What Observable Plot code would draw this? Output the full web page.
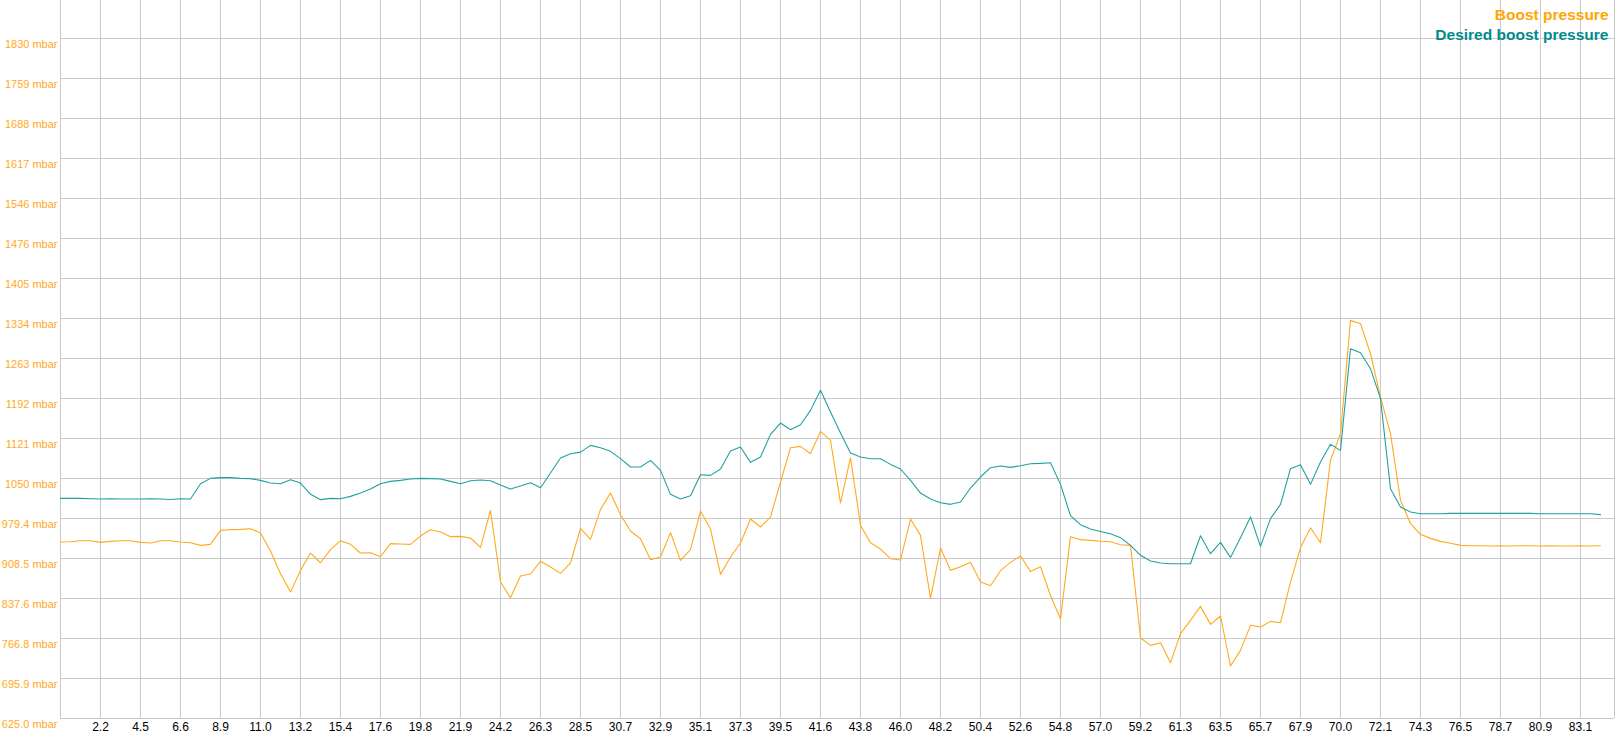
<!DOCTYPE html>
<html>
<head>
<meta charset="utf-8">
<script src="https://cdn.jsdelivr.net/npm/d3@7"></script>
<script src="https://cdn.jsdelivr.net/npm/@observablehq/plot@0.6"></script>
<style>
  html, body { margin: 0; padding: 0; background: #fff; }
  #chart { width: 1617px; height: 737px; overflow: hidden; }
  svg { display: block; }
</style>
</head>
<body>
<div id="chart"></div>
<script>
// Boost pressure (mbar), one sample per step
const boostPressure = [
  937.7, 938.3, 940.1, 940.1, 937.1, 938.9, 940.1, 940.1, 937.1, 935.9,
  940.1, 940.1, 937.7, 936.5, 931.8, 933.6, 958.4, 959.6, 960.2, 961.3,
  953.7, 921.8, 881.6, 849.1, 887.5, 918.2, 901.0, 924.1, 940.1, 933.6,
  918.2, 918.8, 911.7, 934.8, 934.2, 933.6, 948.3, 959.6, 955.4, 947.2,
  947.8, 944.8, 928.3, 993.8, 866.8, 839.1, 877.5, 881.0, 903.5, 893.4,
  882.2, 900.5, 962.0, 942.4, 995.6, 1024.5, 986.2, 957.2, 943.6, 906.4,
  911.1, 954.3, 905.2, 924.1, 992.6, 960.7, 880.4, 911.1, 935.9, 978.5,
  964.3, 982.0, 1044.0, 1104.9, 1107.2, 1094.2, 1133.8, 1117.9, 1007.0, 1087.2,
  967.2, 936.5, 925.3, 908.2, 905.8, 978.5, 949.5, 837.9, 927.1, 887.5,
  894.0, 901.7, 866.8, 860.3, 886.9, 901.7, 912.9, 885.7, 894.0, 842.6,
  801.9, 947.2, 941.9, 940.7, 939.0, 938.3, 933.0, 931.8, 767.6, 754.6,
  759.3, 723.9, 775.3, 798.9, 823.7, 791.8, 806.6, 718.0, 745.7, 790.1,
  787.1, 797.1, 794.8, 866.8, 927.7, 963.1, 936.5, 1082.4, 1129.7, 1330.5,
  1324.6, 1271.4, 1194.6, 1129.7, 1011.5, 970.2, 951.3, 944.2, 938.9, 935.4,
  931.8, 931.2, 931.2, 930.6, 931.2, 930.6, 931.2, 931.2, 930.6, 931.2,
  930.6, 930.6, 931.2, 930.6, 931.2
];

// Desired boost pressure (mbar)
const desiredBoostPressure = [
  1015.0, 1015.0, 1015.0, 1014.5, 1014.0, 1014.5, 1014.0, 1014.0, 1014.0, 1014.5,
  1014.0, 1013.0, 1014.5, 1014.0, 1041.0, 1050.5, 1051.8, 1051.8, 1050.5, 1050.0,
  1047.0, 1042.2, 1041.0, 1048.2, 1042.2, 1022.2, 1012.8, 1015.0, 1014.5, 1018.6,
  1024.5, 1031.6, 1041.0, 1045.2, 1047.0, 1049.4, 1050.5, 1050.0, 1049.4, 1045.2,
  1041.0, 1046.4, 1047.6, 1046.4, 1038.7, 1031.6, 1036.9, 1042.9, 1034.0, 1060.0,
  1086.6, 1094.2, 1097.0, 1109.0, 1104.9, 1098.4, 1085.4, 1070.6, 1070.6, 1082.4,
  1064.7, 1022.2, 1013.9, 1019.8, 1057.0, 1055.8, 1067.1, 1099.0, 1106.0, 1078.9,
  1088.3, 1128.5, 1148.6, 1136.8, 1145.6, 1171.0, 1206.5, 1168.1, 1131.0, 1095.4,
  1088.3, 1085.4, 1085.4, 1075.3, 1067.1, 1047.0, 1024.5, 1013.9, 1007.4, 1004.5,
  1008.6, 1033.4, 1052.9, 1069.4, 1072.4, 1070.0, 1073.0, 1076.5, 1077.1, 1078.3,
  1039.9, 984.4, 968.4, 960.7, 956.5, 952.5, 945.4, 931.8, 914.1, 904.0,
  900.5, 899.3, 899.3, 899.3, 948.9, 917.0, 937.1, 910.5, 945.4, 982.0,
  930.0, 979.1, 1004.5, 1067.7, 1074.8, 1039.9, 1079.5, 1110.8, 1100.1, 1280.3,
  1273.0, 1244.9, 1191.7, 1032.2, 999.7, 990.9, 987.9, 987.9, 987.9, 988.5,
  988.5, 988.5, 988.5, 988.5, 988.5, 988.5, 988.5, 988.5, 987.9, 987.9,
  987.9, 987.9, 987.9, 987.9, 986.2
];

// X axis: tick positions (sample index) and their time labels
const xTickIndex = [4, 8, 12, 16, 20, 24, 28, 32, 36, 40, 44, 48, 52, 56, 60, 64, 68, 72, 76,
  80, 84, 88, 92, 96, 100, 104, 108, 112, 116, 120, 124, 128, 132, 136, 140, 144, 148, 152];
const xTickLabels = ["2.2", "4.5", "6.6", "8.9", "11.0", "13.2", "15.4", "17.6", "19.8", "21.9",
  "24.2", "26.3", "28.5", "30.7", "32.9", "35.1", "37.3", "39.5", "41.6", "43.8", "46.0", "48.2",
  "50.4", "52.6", "54.8", "57.0", "59.2", "61.3", "63.5", "65.7", "67.9", "70.0", "72.1", "74.3",
  "76.5", "78.7", "80.9", "83.1"];

// Y axis ticks (mbar) and labels
const yTicks = [625.0, 695.9, 766.8, 837.6, 908.5, 979.4, 1050.3, 1121.2, 1192.1, 1262.9,
  1333.8, 1404.7, 1475.6, 1546.5, 1617.4, 1688.2, 1759.1, 1830.0];
const yTickLabels = ["625.0 mbar", "695.9 mbar", "766.8 mbar", "837.6 mbar", "908.5 mbar",
  "979.4 mbar", "1050 mbar", "1121 mbar", "1192 mbar", "1263 mbar", "1334 mbar", "1405 mbar",
  "1476 mbar", "1546 mbar", "1617 mbar", "1688 mbar", "1759 mbar", "1830 mbar"];

const seriesNames = ["Boost pressure", "Desired boost pressure"];
const seriesColors = ["#FFA500", "#008B8B"];
const lineColors = ["#FFAA1E", "#23A0A0"];

const rows = [];
boostPressure.forEach((v, i) => rows.push({i, v, s: seriesNames[0]}));
desiredBoostPressure.forEach((v, i) => rows.push({i, v, s: seriesNames[1]}));

const W = 1617, H = 737;
const xMax = 155.4;   // right border of the plot, in sample units
const yMax = 1897.3;  // top of the plot, in mbar

const grid = "#c9c9c9";
const font = "Liberation Sans, Arial, sans-serif";

const chart = Plot.plot({
  width: W,
  height: H,
  marginLeft: 60,
  marginRight: 3,
  marginTop: 0,
  marginBottom: 19,
  style: {fontFamily: font, background: "#fff"},
  x: {domain: [0, xMax], axis: null},
  y: {domain: [625, yMax], axis: null},
  color: {domain: seriesNames, range: lineColors},
  marks: [
    Plot.ruleY(yTicks, {stroke: grid, strokeWidth: 1}),
    Plot.ruleX(xTickIndex, {stroke: grid, strokeWidth: 1}),
    Plot.ruleX([0, xMax], {stroke: grid, strokeWidth: 1}),
    Plot.axisY(yTicks, {
      label: null,
      tickSize: 0, tickPadding: 3, dy: 6,
      tickFormat: (d, k) => yTickLabels[k],
      fill: "#FFAA22", fontSize: 11, fontFamily: font
    }),
    Plot.axisX(xTickIndex, {
      label: null,
      tickSize: 0, tickPadding: 4,
      tickFormat: (d, k) => xTickLabels[k],
      fill: "#000", fontSize: 12, fontFamily: font
    }),
    Plot.line(rows, {x: "i", y: "v", z: "s", stroke: "s", strokeWidth: 1.1}),
    Plot.text([seriesNames[0]], {
      frameAnchor: "top-right", text: d => d, textAnchor: "end", lineAnchor: "bottom",
      dx: -6, dy: 19, fill: seriesColors[0], fontWeight: "bold", fontSize: 15.5, fontFamily: font
    }),
    Plot.text([seriesNames[1]], {
      frameAnchor: "top-right", text: d => d, textAnchor: "end", lineAnchor: "bottom",
      dx: -6, dy: 39, fill: seriesColors[1], fontWeight: "bold", fontSize: 15.5, fontFamily: font
    })
  ]
});
document.getElementById("chart").appendChild(chart);
</script>
</body>
</html>
